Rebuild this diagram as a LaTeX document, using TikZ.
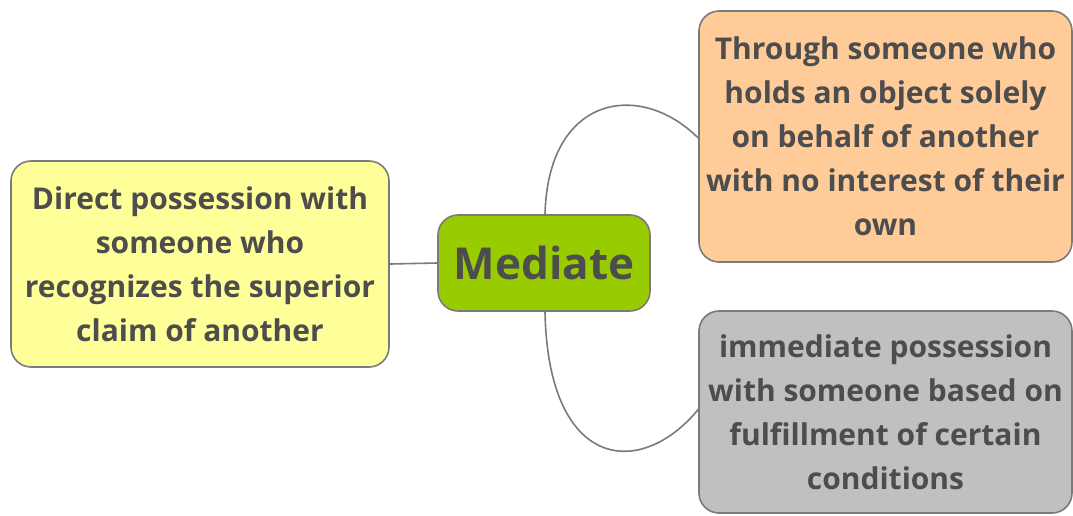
\documentclass[tikz,border=0pt]{standalone}
\usepackage{fontspec}
\setmainfont{Open Sans}
\definecolor{txt}{HTML}{4D4D4D}
\definecolor{bord}{HTML}{7A7A7A}
\definecolor{cyellow}{HTML}{FFFF99}
\definecolor{cgreen}{HTML}{99CC00}
\definecolor{corange}{HTML}{FFCC99}
\definecolor{cgray}{HTML}{C0C0C0}
\begin{document}
\begin{tikzpicture}[x=1pt,y=-1pt,
  box/.style={draw=bord, line width=1.6pt, rounded corners=20pt, align=center,
     text=txt, font=\bfseries\fontsize{30}{44}\selectfont, inner sep=0pt},
  link/.style={draw=bord, line width=1.6pt}]
\useasboundingbox (0,0) rectangle (1073,515);
\node[box, fill=cyellow, minimum width=378pt, minimum height=206pt] (left) at (200,264)
  {Direct possession with\\someone who\\recognizes the superior\\claim of another};
\node[box, fill=cgreen, minimum width=212pt, minimum height=96pt,
  font=\bfseries\fontsize{44}{48}\selectfont] (mid) at (544,263) {Mediate};
\node[box, fill=corange, minimum width=373pt, minimum height=251pt] (top) at (885.5,136.5)
  {Through someone who\\holds an object solely\\on behalf of another\\with no interest of their\\own};
\node[box, fill=cgray, minimum width=373pt, minimum height=202pt] (bot) at (885.5,412)
  {immediate possession\\with someone based on\\fulfillment of certain\\conditions};
\draw[link] (left.east) -- (mid.west);
\draw[link] ([xshift=1pt]mid.north) .. controls (548,95) and (640,80) .. ([yshift=-1.5pt]top.west);
\draw[link] ([xshift=1pt]mid.south) .. controls (548,470) and (640,480) .. ([yshift=2.5pt]bot.west);
\end{tikzpicture}
\end{document}
